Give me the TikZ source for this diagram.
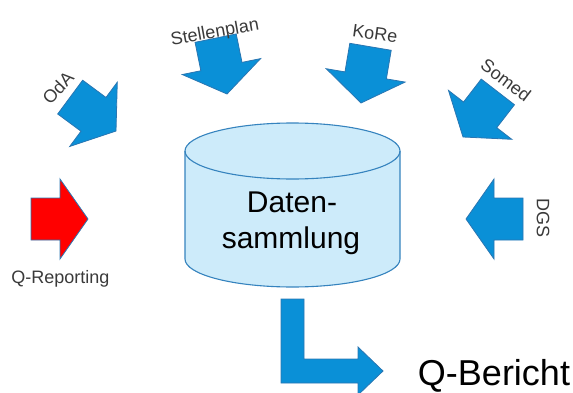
\documentclass[tikz,border=0pt]{standalone}
\usepackage{fontspec}
\setmainfont{Liberation Sans}
\begin{document}
\definecolor{arrowblue}{HTML}{0A90D7}
\definecolor{arrowedge}{HTML}{2A76B2}
\definecolor{cylfill}{HTML}{CDEBFA}
\definecolor{cyledge}{HTML}{3583BE}
\definecolor{labelgray}{HTML}{3A3A3A}
\tikzset{
  arrowline/.style={draw=arrowedge, line width=0.8pt, line join=miter},
  pics/blockarrow/.style={code={
    % tip at the origin, pointing along +x
    \path[arrowline, fill=#1] (0,0) -- (-28,40) -- (-28,21) -- (-57,21)
      -- (-57,-21) -- (-28,-21) -- (-28,-40) -- cycle;
  }},
  smalllabel/.style={font=\fontsize{18}{20}\selectfont, text=labelgray, inner sep=0pt},
  biglabel/.style={font=\fontsize{30}{34}\selectfont, text=black, inner sep=0pt},
}
\begin{tikzpicture}[x=1pt,y=1pt]
\useasboundingbox (0,0) rectangle (573,392);
\begin{scope}
\clip (0,0) rectangle (573,392);

% data store cylinder
\fill[cylfill] (185,241) -- (185,133)
  arc[start angle=180, end angle=360, x radius=107.5, y radius=28]
  -- (400,241)
  arc[start angle=0, end angle=180, x radius=107.5, y radius=28] -- cycle;
\draw[cyledge, line width=1.1pt] (185,241) -- (185,133)
  arc[start angle=180, end angle=360, x radius=107.5, y radius=28]
  -- (400,241);
\draw[cyledge, line width=1.1pt] (292.5,241) ellipse[x radius=107.5, y radius=28];
\node[biglabel, anchor=base] (daten) at (292,180) {Daten-};
\node[biglabel, anchor=base] (sammlung) at (291,144) {sammlung};

% incoming sources
\pic[rotate=-36.5] (oda) at (116,261) {blockarrow=arrowblue};
\pic[rotate=-78.5] (stellen) at (227,298) {blockarrow=arrowblue};
\pic[rotate=-99.6] (kore) at (361,289) {blockarrow=arrowblue};
\pic[rotate=-127.7] (somed) at (463,255) {blockarrow=arrowblue};
\pic[rotate=180] (dgs) at (466,173) {blockarrow=arrowblue};
\pic (qrep) at (88,173) {blockarrow=red};

% output arrow
\path[arrowline, fill=arrowblue] (281,93) -- (304,93) -- (304,33) -- (358,33)
  -- (358,45) -- (383,21) -- (358,-3) -- (358,9) -- (281,9) -- cycle;

% labels
\node[smalllabel, rotate=47] (odalabel) at (58,304) {OdA};
\node[smalllabel, rotate=10] (stellenlabel) at (215,359) {Stellenplan};
\node[smalllabel, rotate=-8] (korelabel) at (375,358) {KoRe};
\node[smalllabel, rotate=-37] (somedlabel) at (506,312) {Somed};
\node[smalllabel, rotate=-90] (dgslabel) at (543,174) {DGS};
\node[smalllabel, anchor=base] (qreplabel) at (60.5,109) {Q-Reporting};
\node[font=\fontsize{36}{40}\selectfont, inner sep=0pt, anchor=base] (bericht) at (494,7) {Q-Bericht};
\end{scope}
\end{tikzpicture}
\end{document}
